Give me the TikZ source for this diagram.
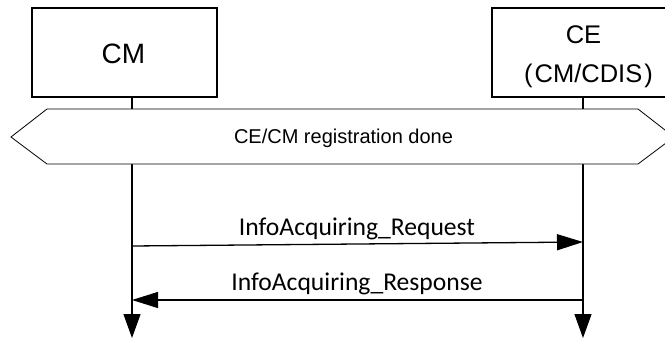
\documentclass[tikz,border=0pt]{standalone}
\usepackage{fontspec}
\setmainfont{Liberation Sans}
\newfontfamily\msgfont{Carlito}
\usetikzlibrary{arrows.meta}
\begin{document}
\begin{tikzpicture}[x=1pt,y=-1pt,
  entbox/.style={draw,line width=1.3pt,fill=white,minimum width=185pt,minimum height=89pt,inner sep=0pt},
  lifeline/.style={line width=1.3pt,-{Triangle[length=24pt,width=17pt]}},
  msg/.style={line width=1.3pt,-{Triangle[length=26pt,width=16pt]}},
  band/.style={draw,line width=0.8pt,fill=white},
  msglabel/.style={font=\msgfont\fontsize{25.6}{30}\selectfont,anchor=base,inner sep=0pt},
  entlabel/.style={anchor=base,inner sep=0pt}]
\useasboundingbox (0,0) rectangle (665,338);
\clip (0,0) rectangle (665,338);
\fill[white] (0,0) rectangle (665,338);
% entity boxes
\node[entbox,minimum width=185pt] (cm) at (124.5,52.5) {};
\node[entbox,minimum width=182pt] (ce) at (583,52.5) {};
\node[entlabel,font=\fontsize{28}{32}\selectfont] (cmlabel) at (123.5,63) {CM};
\node[entlabel,font=\fontsize{25.5}{28}\selectfont] (celabel1) at (583.5,43) {CE};
\node[entlabel,font=\fontsize{25.5}{28}\selectfont] (celabel2) at (588.5,82) {(\kern2ptCM/CDIS\kern2pt)};
% lifelines
\coordinate (cmtop) at (132,97);
\coordinate (cmend) at (132,338);
\coordinate (cetop) at (583,97);
\coordinate (ceend) at (583,338);
\draw[lifeline] (cmtop) -- (cmend);
\draw[lifeline] (cetop) -- (ceend);
% registration band
\draw[band] (11,137) -- (47,109) -- (638,109) -- (674,137) -- (638,164) -- (47,164) -- cycle;
\node[entlabel,font=\fontsize{20}{24}\selectfont] (bandlabel) at (343.5,143) {CE/CM registration done};
% messages
\coordinate (req1) at (132,246);
\coordinate (req2) at (583,242);
\coordinate (res1) at (583,300);
\coordinate (res2) at (132,300);
\draw[msg] (req1) -- (req2);
\draw[msg] (res1) -- (res2);
\node[msglabel] (reqlabel) at (357,235) {InfoAcquiring\_Request};
\node[msglabel] (reslabel) at (357,290) {InfoAcquiring\_Response};
\end{tikzpicture}
\end{document}
